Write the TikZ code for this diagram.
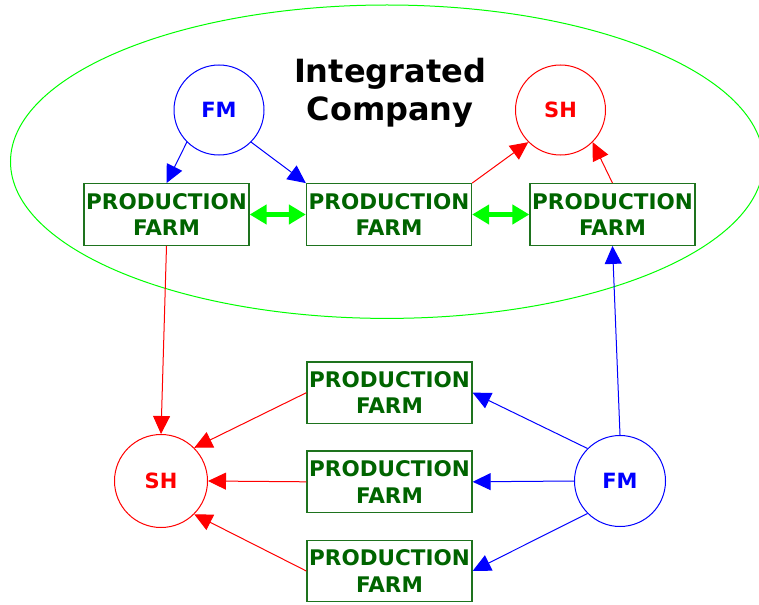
\documentclass[tikz,border=0pt]{standalone}
\usepackage{fontspec}
\setmainfont{DejaVu Sans}
\usetikzlibrary{arrows.meta}
\definecolor{farmgreen}{RGB}{0,100,0}
\definecolor{farmedge}{RGB}{30,115,30}
\definecolor{lime}{RGB}{0,255,0}
\definecolor{fmblue}{RGB}{0,0,255}
\definecolor{shred}{RGB}{255,0,0}
\tikzset{
  farm/.style={rectangle, draw=farmedge, line width=1.3pt, text=farmgreen,
    minimum width=165pt, minimum height=61.5pt, inner sep=0pt, align=center,
    font=\fontsize{21.5}{26.5}\selectfont\bfseries},
  fmnode/.style={circle, draw=fmblue, line width=1pt, text=fmblue, inner sep=0pt,
    minimum size=90pt, font=\fontsize{21}{25}\selectfont\bfseries},
  shnode/.style={circle, draw=shred, line width=1pt, text=shred, inner sep=0pt,
    minimum size=90pt, font=\fontsize{21}{25}\selectfont\bfseries},
  bluearrow/.style={draw=fmblue, line width=1pt, -{Triangle[length=18pt,width=17pt]}},
  redarrow/.style={draw=shred, line width=1pt, -{Triangle[length=18pt,width=17pt]}},
  linkarrow/.style={draw=lime, line width=4.5pt,
    {Triangle[length=17pt,width=19pt]}-{Triangle[length=17pt,width=19pt]}},
}
\begin{document}
\begin{tikzpicture}[x=1pt, y=-1pt]
\useasboundingbox (0,0) rectangle (759,604);

% company boundary
\draw[lime, line width=1pt] (387,161.7) ellipse [x radius=376.5, y radius=156.7];
\node[font=\fontsize{32}{38}\selectfont\bfseries, align=center] (title) at (390,92.5)
  {Integrated\\Company};

% inside the company
\node[fmnode] (fmT) at (219,110) {FM};
\node[shnode] (shT) at (560.5,110) {SH};
\node[farm] (p1) at (166.5,214.5) {PRODUCTION\\FARM};
\node[farm] (p2) at (389,214.5) {PRODUCTION\\FARM};
\node[farm] (p3) at (612.5,214.5) {PRODUCTION\\FARM};

% outside the company
\node[farm] (pa) at (389.5,392.7) {PRODUCTION\\FARM};
\node[farm] (pb) at (389.5,481.8) {PRODUCTION\\FARM};
\node[farm] (pc) at (389.5,571) {PRODUCTION\\FARM};
\node[shnode, minimum size=93pt] (shB) at (161,481) {SH};
\node[fmnode, minimum size=91pt] (fmB) at (620,481) {FM};

% connectors
\draw[bluearrow] (fmT.south west) -- (p1.north);
\draw[bluearrow] (fmT.south east) -- (p2.north west);
\draw[redarrow] (p2.north east) -- (shT.south west);
\draw[redarrow] (p3.north) -- (shT.south east);
\draw[linkarrow] (p1.east) -- (p2.west);
\draw[linkarrow] (p2.east) -- (p3.west);

\draw[redarrow] (p1.south) -- (shB.north);
\draw[redarrow] (pa.west) -- (shB.north east);
\draw[redarrow] (pb.west) -- (shB.east);
\draw[redarrow] (pc.west) -- (shB.south east);

\draw[bluearrow] (fmB.north) -- (p3.south);
\draw[bluearrow] (fmB.north west) -- (pa.east);
\draw[bluearrow] (fmB.west) -- (pb.east);
\draw[bluearrow] (fmB.south west) -- (pc.east);
\end{tikzpicture}
\end{document}
